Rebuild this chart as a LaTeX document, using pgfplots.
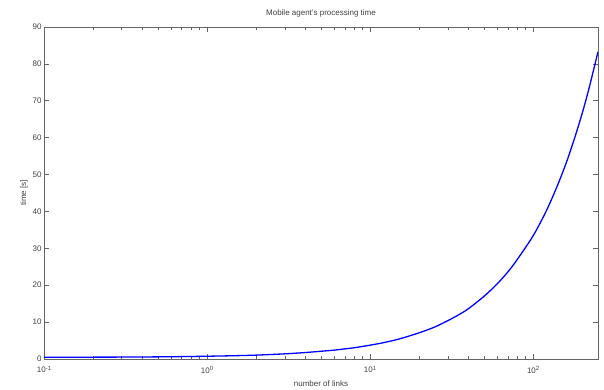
\documentclass[border=0pt]{standalone}
\usepackage{fontspec}
\setmainfont{Liberation Sans}
\usepackage{pgfplots}
\pgfplotsset{compat=1.18}
\definecolor{axgray}{RGB}{100,100,100}
\newcommand{\pw}[1]{10\raisebox{0.55ex}{\fontsize{6}{6}\selectfont #1}}
\begin{document}
\begin{tikzpicture}
\begin{semilogxaxis}[
  scale only axis,
  width=554pt, height=332pt,
  xmin=0.1, xmax=250,
  ymin=0, ymax=90,
  ytick={0,10,...,90},
  xtick={0.1,1,10,100},
  xticklabels={\pw{-1},\pw{0},\pw{1},\pw{2}},
  tick align=inside,
  major tick length=5pt,
  minor tick length=3pt,
  axis line style={axgray, line width=0.8pt},
  every tick/.style={axgray, line width=0.6pt},
  tick label style={font=\fontsize{8}{9}\selectfont, text=black!75},
  xticklabel style={yshift=-4pt},
  yticklabel style={xshift=1pt},
  /pgf/number format/assume math mode=true,
  title={Mobile agent's processing time},
  title style={font=\fontsize{8}{9}\selectfont, text=black!75, yshift=0pt},
  xlabel={number of links},
  ylabel={time [s]},
  label style={font=\fontsize{8}{9}\selectfont, text=black!75},
  xlabel style={yshift=-1pt},
  ylabel style={yshift=-2pt},
]
\addplot[blue, line width=1.3pt, smooth] coordinates {
(0.1,0.45) (0.15,0.47) (0.2,0.5) (0.3,0.52) (0.5,0.58) (0.7,0.65)
(1,0.75) (1.5,0.9) (2,1.05) (3,1.4) (4,1.75) (5,2.1) (6,2.4) (7,2.75)
(8,3.05) (10,3.75) (12,4.4) (15,5.4) (20,7.1) (25,8.7) (30,10.4)
(35,12.0) (40,13.6) (50,17.0) (60,20.3) (70,23.6) (80,27.0) (100,33.4)
(120,40.0) (140,46.7) (160,53.3) (180,60.0) (200,66.6) (220,73.3) (250,83.3)
};
\end{semilogxaxis}
\pgfresetboundingbox
\path (current axis.south west) ++(-44pt,-31pt) coordinate (bl);
\path (current axis.north east) ++(6pt,27pt) coordinate (tr);
\path[use as bounding box] (bl) rectangle (tr);
\end{tikzpicture}
\end{document}
